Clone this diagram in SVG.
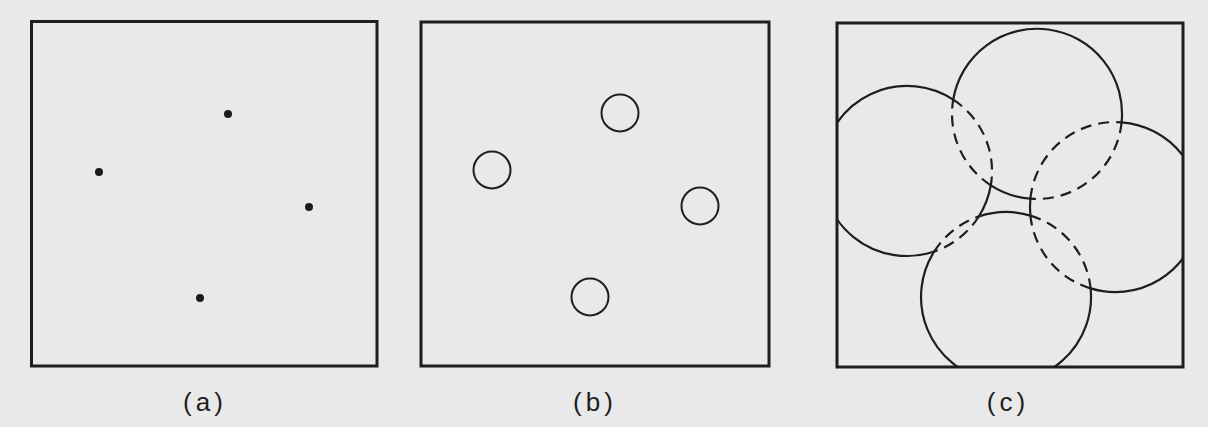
<svg xmlns="http://www.w3.org/2000/svg" width="1208" height="427" viewBox="0 0 1208 427">
  <style>
    .frame { fill: none; stroke: #1e1e1e; stroke-width: 3; }
    .dot { fill: #1a1a1a; }
    .ring { fill: none; stroke: #1e1e1e; stroke-width: 2; }
    .solid { fill: none; stroke: #1e1e1e; stroke-width: 2.2; stroke-linecap: round; }
    .dash { fill: none; stroke: #1e1e1e; stroke-width: 2.2; stroke-dasharray: 11 7; stroke-linecap: butt; }
    .lbl { font-family: "Liberation Sans", Arial, sans-serif; font-size: 26px; fill: #1e1e1e; text-anchor: middle; letter-spacing: 4px; }
  </style>
  <defs>
    <clipPath id="clipC">
      <rect x="837" y="23" width="346" height="344"/>
    </clipPath>
  </defs>
  <rect x="0" y="0" width="1208" height="427" fill="#e9e9e9"/>

  <g id="panel-a">
    <rect class="frame" x="31.5" y="21.5" width="345.5" height="344.5"/>
    <g id="a-top"><circle class="dot" cx="228" cy="114" r="4"/></g>
    <g id="a-left"><circle class="dot" cx="99" cy="172" r="4"/></g>
    <g id="a-right"><circle class="dot" cx="309" cy="207" r="4"/></g>
    <g id="a-bottom"><circle class="dot" cx="200" cy="298" r="4"/></g>
    <text class="lbl" x="205" y="411">(a)</text>
  </g>

  <g id="panel-b">
    <rect class="frame" x="421" y="22" width="348" height="344"/>
    <g id="b-top"><circle class="ring" cx="620" cy="113" r="18.5"/></g>
    <g id="b-left"><circle class="ring" cx="492" cy="170" r="18.5"/></g>
    <g id="b-right"><circle class="ring" cx="700" cy="206" r="18.5"/></g>
    <g id="b-bottom"><circle class="ring" cx="590" cy="297" r="18.5"/></g>
    <text class="lbl" x="595" y="411">(b)</text>
  </g>

  <g id="panel-c">
    <rect class="frame" x="837" y="23" width="346" height="344"/>
    <g clip-path="url(#clipC)">
      <g id="c-top">
        <path class="solid" d="M953.2,99.7 A85,85 0 0 1 1121.6,122.3"/>
        <path class="dash" d="M1121.6,122.3 A85,85 0 0 1 1030.4,198.7"/>
        <path class="solid" d="M1030.4,198.7 A85,85 0 0 1 990.8,185.3"/>
        <path class="dash" d="M990.8,185.3 A85,85 0 0 1 953.2,99.7"/>
      </g>
      <g id="c-left">
        <path class="dash" d="M953.2,99.7 A85,85 0 0 1 990.8,185.3"/>
        <path class="solid" d="M990.8,185.3 A85,85 0 0 1 978.8,216.5"/>
        <path class="dash" d="M978.8,216.5 A85,85 0 0 1 934.2,251.5"/>
        <path class="solid" d="M934.2,251.5 A85,85 0 1 1 953.2,99.7"/>
      </g>
      <g id="c-right">
        <path class="dash" d="M1090.6,288.4 A85,85 0 0 1 1030.4,215.6"/>
        <path class="solid" d="M1030.4,215.6 A85,85 0 0 1 1030.4,198.7"/>
        <path class="dash" d="M1030.4,198.7 A85,85 0 0 1 1121.6,122.3"/>
        <path class="solid" d="M1121.6,122.3 A85,85 0 1 1 1090.6,288.4"/>
      </g>
      <g id="c-bottom">
        <path class="dash" d="M934.2,251.5 A85,85 0 0 1 978.8,216.5"/>
        <path class="solid" d="M978.8,216.5 A85,85 0 0 1 1030.4,215.6"/>
        <path class="dash" d="M1030.4,215.6 A85,85 0 0 1 1090.6,288.4"/>
        <path class="solid" d="M1090.6,288.4 A85,85 0 1 1 934.2,251.5"/>
      </g>
    </g>
    <text class="lbl" x="1008" y="411">(c)</text>
  </g>
</svg>
